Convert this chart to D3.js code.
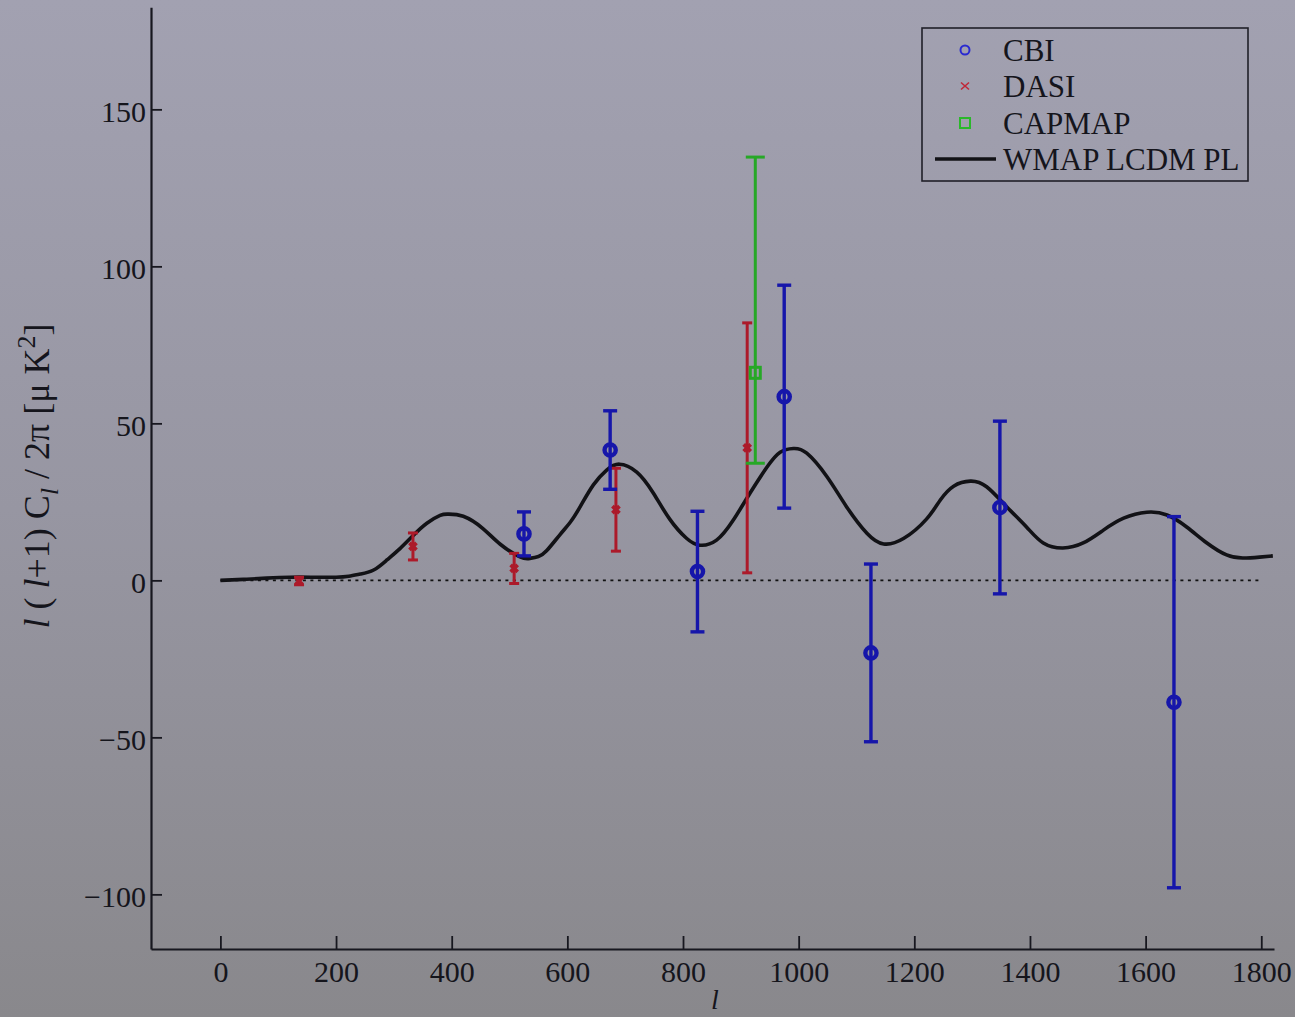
<!DOCTYPE html>
<html>
<head>
<meta charset="utf-8">
<script src="https://cdn.jsdelivr.net/npm/d3@7"></script>
<style>
html, body { margin: 0; padding: 0; background: #97969f; }
svg { display: block; }
text { font-family: "Liberation Serif", "DejaVu Serif", serif; fill: #15151c; }
</style>
</head>
<body>
<svg id="chart" width="1295" height="1017"></svg>
<script>
// ---- data ----
const cbiL   = [525, 674, 825, 975, 1125, 1348, 1649];
const cbiVal = [14.8, 41.5, 2.8, 58.5, -23.1, 23.2, -38.8];
const cbiErr = [7.0, 12.5, 19.2, 35.5, 28.3, 27.5, 59.1];

const dasiL   = [136, 333, 508, 684, 911];
const dasiVal = [-0.2, 10.8, 3.8, 22.5, 42.2];
const dasiErr = [1.2, 4.3, 4.8, 13.2, 39.8];

const capL        = [925];
const capVal      = [66.1];
const capErrMinus = [28.8];
const capErrPlus  = [68.7];

const wmapL  = [0, 40, 80, 120, 160, 200, 222, 242, 265, 288, 311, 334, 357, 380, 394, 420, 454, 484, 518, 535, 550, 564, 587, 605, 622, 645, 668, 690, 720, 748, 777, 806, 829, 858, 887, 916, 945, 968, 991, 1014, 1049, 1083, 1118, 1147, 1182, 1221, 1245, 1268, 1297, 1325, 1360, 1394, 1423, 1457, 1492, 1527, 1562, 1602, 1637, 1671, 1706, 1740, 1768, 1797, 1820];
const wmapEE = [0, 0.3, 0.7, 1.0, 1.0, 1.0, 1.3, 2.0, 3.3, 6.5, 10.2, 14.4, 18.2, 20.7, 21.1, 20.4, 16.5, 11.5, 7.5, 7.0, 7.6, 9.4, 14.5, 18.5, 23.4, 30.4, 35.1, 37, 34.5, 28, 19.5, 13.4, 11.2, 12.8, 19.2, 27.8, 36, 40.8, 42, 40.5, 33, 23.4, 15, 11.6, 13.4, 19.5, 25.6, 30.0, 31.6, 29.8, 23.4, 17, 11.9, 10.3, 11.9, 16, 19.8, 21.7, 20.8, 17, 11.9, 8.1, 7.1, 7.4, 7.8];

const xTicks = [0, 200, 400, 600, 800, 1000, 1200, 1400, 1600, 1800];
const yTicks = [-100, -50, 0, 50, 100, 150];
const legendLabels = ["CBI", "DASI", "CAPMAP", "WMAP LCDM PL"];

// ---- setup ----
const svg = d3.select("#chart");
const W = 1295, H = 1017;
const C_BLUE = "#1616aa", C_RED = "#ac1a2a", C_GREEN = "#26a826", C_AX = "#17171f";

const defs = svg.append("defs");
const grad = defs.append("linearGradient").attr("id", "bg").attr("x1", 0).attr("y1", 0).attr("x2", 0).attr("y2", 1);
grad.append("stop").attr("offset", "0%").attr("stop-color", "#a2a1b1");
grad.append("stop").attr("offset", "50%").attr("stop-color", "#9796a2");
grad.append("stop").attr("offset", "100%").attr("stop-color", "#89888c");
svg.append("rect").attr("width", W).attr("height", H).attr("fill", "url(#bg)");

const x = d3.scaleLinear().domain([-120, 1822]).range([151, 1274]);
const y = d3.scaleLinear().domain([-117.4, 182.5]).range([949, 7.3]);

// ---- axes ----
const xAxis = d3.axisBottom(x).tickValues(xTicks).tickSizeInner(-13).tickSizeOuter(0).tickPadding(12).tickFormat(d3.format("d"));
const gx = svg.append("g").attr("transform", `translate(0,${y.range()[0]})`).call(xAxis);
gx.select(".domain").attr("stroke", C_AX).attr("stroke-width", 2.2);
gx.selectAll(".tick line").attr("stroke", C_AX).attr("stroke-width", 1.8);
gx.selectAll(".tick text").attr("font-size", 30).attr("font-family", "Liberation Serif").attr("fill", "#15151c");

const yAxis = d3.axisLeft(y).tickValues(yTicks).tickSizeInner(-11).tickSizeOuter(0).tickPadding(5);
const gy = svg.append("g").attr("transform", `translate(${x.range()[0]},0)`).call(yAxis);
gy.select(".domain").attr("stroke", C_AX).attr("stroke-width", 2.2);
gy.selectAll(".tick line").attr("stroke", C_AX).attr("stroke-width", 1.8);
gy.selectAll(".tick text").attr("font-size", 30).attr("font-family", "Liberation Serif").attr("fill", "#15151c").attr("dy", "0.4em");

// ---- zero line ----
svg.append("line")
  .attr("x1", x(0)).attr("x2", x(1800)).attr("y1", y(0)).attr("y2", y(0))
  .attr("stroke", "#111").attr("stroke-width", 1.6).attr("stroke-dasharray", "3,4.5");

// ---- WMAP model curve ----
const line = d3.line().x((d, i) => x(wmapL[i])).y(d => y(d)).curve(d3.curveNatural);
svg.append("path").datum(wmapEE).attr("d", line)
  .attr("fill", "none").attr("stroke", "#121216").attr("stroke-width", 3.6).attr("stroke-linejoin", "round");

// ---- error bars helper ----
function errBars(ls, vals, lo, hi, color, sw, capW) {
  const g = svg.append("g").attr("stroke", color).attr("stroke-width", sw).attr("fill", "none");
  ls.forEach((l, i) => {
    const cx = x(l), y0 = y(vals[i] - lo[i]), y1 = y(vals[i] + hi[i]);
    g.append("line").attr("x1", cx).attr("x2", cx).attr("y1", y0).attr("y2", y1);
    g.append("line").attr("x1", cx - capW / 2).attr("x2", cx + capW / 2).attr("y1", y0).attr("y2", y0);
    g.append("line").attr("x1", cx - capW / 2).attr("x2", cx + capW / 2).attr("y1", y1).attr("y2", y1);
  });
  return g;
}

// DASI
errBars(dasiL, dasiVal, dasiErr, dasiErr, C_RED, 3, 10);
svg.append("g").selectAll("path").data(dasiVal).join("path")
  .attr("d", (d, i) => { const cx = x(dasiL[i]), cy = y(d), s = 3.5; return `M${cx - s},${cy - s}L${cx + s},${cy + s}M${cx - s},${cy + s}L${cx + s},${cy - s}`; })
  .attr("stroke", C_RED).attr("stroke-width", 3.8).attr("fill", "none");

// CAPMAP
errBars(capL, capVal, capErrMinus, capErrPlus, C_GREEN, 3, 19);
svg.append("g").selectAll("rect").data(capVal).join("rect")
  .attr("x", (d, i) => x(capL[i]) - 5).attr("y", d => y(d) - 5.5)
  .attr("width", 10).attr("height", 11)
  .attr("fill", "none").attr("stroke", C_GREEN).attr("stroke-width", 3);

// CBI
errBars(cbiL, cbiVal, cbiErr, cbiErr, C_BLUE, 3.4, 14);
svg.append("g").selectAll("circle").data(cbiVal).join("circle")
  .attr("cx", (d, i) => x(cbiL[i])).attr("cy", d => y(d)).attr("r", 5.6)
  .attr("fill", "none").attr("stroke", C_BLUE).attr("stroke-width", 4.4);

// ---- legend ----
const lg = svg.append("g");
lg.append("rect").attr("x", 922).attr("y", 28).attr("width", 326).attr("height", 153)
  .attr("fill", "none").attr("stroke", "#202028").attr("stroke-width", 1.6);
const rowY = [50, 86, 123, 159];
lg.append("circle").attr("cx", 965).attr("cy", rowY[0]).attr("r", 4.5).attr("fill", "none").attr("stroke", "#2a2ad0").attr("stroke-width", 2);
lg.append("path").attr("d", `M961,${rowY[1] - 3.5}L969,${rowY[1] + 3.5}M961,${rowY[1] + 3.5}L969,${rowY[1] - 3.5}`).attr("stroke", "#c02838").attr("stroke-width", 1.6);
lg.append("rect").attr("x", 960).attr("y", rowY[2] - 5).attr("width", 10).attr("height", 10).attr("fill", "none").attr("stroke", "#2ab82a").attr("stroke-width", 2);
lg.append("line").attr("x1", 935).attr("x2", 996).attr("y1", rowY[3]).attr("y2", rowY[3]).attr("stroke", "#121216").attr("stroke-width", 3.4);
lg.selectAll("text.lab").data(legendLabels).join("text").attr("class", "lab")
  .attr("x", 1003).attr("y", (d, i) => rowY[i] + 11).attr("font-size", 31).text(d => d);

// ---- axis titles ----
svg.append("text").attr("x", 715).attr("y", 1009).attr("text-anchor", "middle")
  .attr("font-size", 28).attr("font-style", "italic").text("l");

const yt = svg.append("text").attr("transform", "translate(49,476) rotate(-90)")
  .attr("text-anchor", "middle").attr("font-size", 36);
yt.append("tspan").attr("font-style", "italic").text("l");
yt.append("tspan").text(" ( ");
yt.append("tspan").attr("font-style", "italic").text("l");
yt.append("tspan").text("+1) C");
yt.append("tspan").attr("font-style", "italic").attr("font-size", 26).attr("dy", 9).text("l");
yt.append("tspan").attr("dy", -9).text(" / 2π [μ K");
yt.append("tspan").attr("font-size", 26).attr("dy", -14).text("2");
yt.append("tspan").attr("dy", 14).text("]");
</script>
</body>
</html>
